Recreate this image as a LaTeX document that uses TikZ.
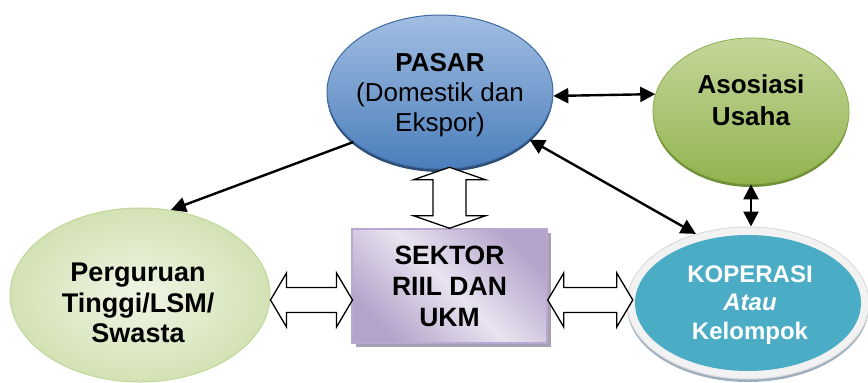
\documentclass[tikz,border=0pt]{standalone}
\usepackage{fontspec}
\setmainfont{Liberation Sans}
\usetikzlibrary{shapes.geometric,arrows.meta,shadows}

\definecolor{pasarTop}{HTML}{A2BEE2}
\definecolor{pasarBot}{HTML}{4A7EBB}
\definecolor{pasarLine}{HTML}{3D6AA2}
\definecolor{pasarShade}{HTML}{2C4D74}
\definecolor{asosTop}{HTML}{C4D79B}
\definecolor{asosBot}{HTML}{92B34F}
\definecolor{asosLine}{HTML}{8AAE4A}
\definecolor{asosShade}{HTML}{6F8F36}
\definecolor{pergOut}{HTML}{D3E2B4}
\definecolor{pergIn}{HTML}{F0F5E6}
\definecolor{pergLine}{HTML}{C2D69A}
\definecolor{sekLight}{HTML}{E8E3EF}
\definecolor{sekDark}{HTML}{B4A4CB}
\definecolor{sekLine}{HTML}{B9A9D0}
\definecolor{sekShade}{HTML}{A79FB3}
\definecolor{kopTeal}{HTML}{4BACC6}
\definecolor{kopRing}{HTML}{F2F2F2}
\definecolor{kopRingLine}{HTML}{DCDCDC}
\definecolor{kopShade}{HTML}{9DAFBF}

% double-headed hollow arrow: start, angle, length, head length, head half width, shaft half width
\newcommand{\hollowpair}[6]{%
  \draw[hollowarrow, shift={(#1)}, rotate=#2]
    (0,0) -- (#4,#5) -- (#4,#6) -- (#3-#4,#6) -- (#3-#4,#5) -- (#3,0)
    -- (#3-#4,-#5) -- (#3-#4,-#6) -- (#4,-#6) -- (#4,-#5) -- cycle;}

\tikzset{
  blob/.style={ellipse, inner sep=0pt},
  label text/.style={align=center, inner sep=0pt, font=\bfseries\fontsize{26}{30}\selectfont},
  link/.style={line width=2.4pt, {Triangle[length=15pt,width=15pt]}-{Triangle[length=15pt,width=15pt]}},
  onelink/.style={line width=2.4pt, -{Triangle[length=15pt,width=15pt]}},
  hollowarrow/.style={draw=black, fill=white, line width=1.3pt, line join=miter},
}

\begin{document}
\begin{tikzpicture}[x=1pt, y=-1pt]
\useasboundingbox (0,0) rectangle (868,383);

% PASAR
\node[blob, minimum width=226pt, minimum height=154pt,
      top color=pasarTop, bottom color=pasarBot, draw=pasarLine, line width=1pt,
      general shadow={shadow yshift=-3pt, fill=pasarShade}] (pasar) at (440,92) {};
\node[label text] (pasar-t) at (440,95)
  {PASAR\\\mdseries(Domestik dan\\\mdseries Ekspor)};

% Asosiasi Usaha
\node[blob, minimum width=196pt, minimum height=146pt,
      top color=asosTop, bottom color=asosBot, draw=asosLine, line width=0.8pt,
      general shadow={shadow yshift=-3pt, fill=asosShade}] (asos) at (751,111) {};
\node[label text, font=\bfseries\fontsize{26}{32}\selectfont] (asos-t) at (751,100) {Asosiasi\\Usaha};

% Perguruan Tinggi
\node[blob, minimum width=260pt, minimum height=174pt,
      inner color=pergIn, outer color=pergOut, draw=pergLine, line width=1pt] (perg) at (140,295) {};
\node[label text, font=\bfseries\fontsize{27}{30.5}\selectfont] (perg-t) at (138,303)
  {Perguruan\\Tinggi/LSM/\\Swasta};

% Koperasi
\node[blob, minimum width=242pt, minimum height=152pt,
      fill=kopRing, draw=kopRingLine, line width=1pt,
      general shadow={shadow yshift=-3pt, fill=kopShade}] (kop) at (748,303) {};
\node[blob, minimum width=226pt, minimum height=136pt, fill=kopTeal] (kop-in) at (748,303) {};
\node[label text, text=white, font=\bfseries\fontsize{24}{28.5}\selectfont] (kop-t) at (750,305)
  {KOPERASI\\\itshape Atau\\Kelompok};

% Sektor riil
\node[rectangle, minimum width=195pt, minimum height=114pt, inner sep=0pt,
      top color=sekDark, bottom color=sekDark, middle color=sekLight, shading angle=-45,
      draw=sekLine, line width=1.5pt,
      general shadow={shadow xshift=4pt, shadow yshift=-4pt, fill=sekShade},
      align=center, font=\bfseries\fontsize{26.5}{31}\selectfont] (sektor) at (449.5,286)
  {SEKTOR\\RIIL DAN\\UKM};

% hollow two-way arrows
\hollowpair{sektor.north}{90}{61}{12.5}{36}{16.5}
\hollowpair{[yshift=-5pt]perg.east}{0}{82}{16}{27}{12.5}
\hollowpair{[yshift=-14pt]sektor.east}{0}{85}{16}{27}{12.5}

% solid connectors
\draw[onelink] (pasar.210) -- (perg.70);
\draw[link] (pasar.-2) -- (asos.170);
\draw[link] (pasar.-28) -- (kop.127);
\draw[link] (asos.south) -- (asos.south |- kop.north);
\end{tikzpicture}
\end{document}
